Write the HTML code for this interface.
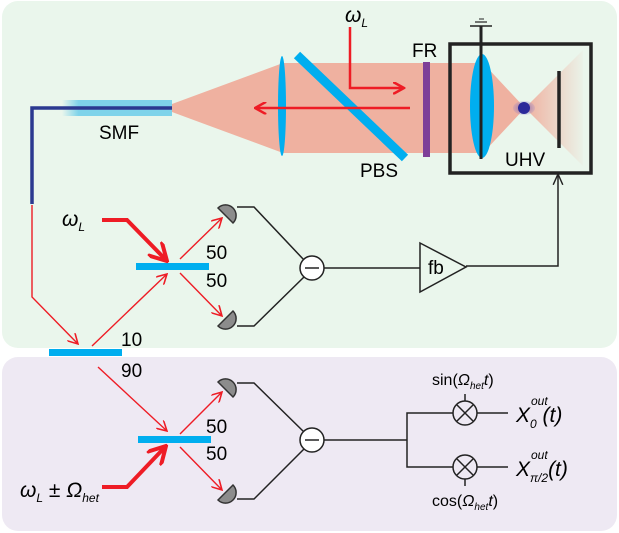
<!DOCTYPE html>
<html><head><style>body{margin:0;background:#fff}svg{display:block}text{font-family:"Liberation Sans",Arial,sans-serif}</style></head><body>
<svg width="619" height="533" viewBox="0 0 619 533" xmlns="http://www.w3.org/2000/svg">
<defs>
<marker id="a" viewBox="0 0 10 10" refX="9" refY="5" markerWidth="8" markerHeight="8" orient="auto"><path d="M0,0 L9,5 L0,10" fill="none" stroke="#ee1c25" stroke-width="1.4"/></marker>
<marker id="ab" viewBox="0 0 10 10" refX="9" refY="5" markerWidth="5" markerHeight="5" orient="auto"><path d="M0,0 L9,5 L0,10" fill="none" stroke="#ee1c25" stroke-width="2"/></marker>
<marker id="ak" viewBox="0 0 10 10" refX="9" refY="5" markerWidth="8" markerHeight="8" orient="auto"><path d="M0,1 L9,5 L0,9" fill="none" stroke="#222" stroke-width="1.2"/></marker>
<linearGradient id="g" x1="0" x2="1"><stop offset="0" stop-color="#efb1a0"/><stop offset="1" stop-color="#efb1a0" stop-opacity="0.05"/></linearGradient>
<linearGradient id="sf" x1="0" x2="1"><stop offset="0" stop-color="#7fd3ea" stop-opacity="0"/><stop offset="0.15" stop-color="#7fd3ea"/><stop offset="1" stop-color="#7fd3ea"/></linearGradient>
<radialGradient id="h"><stop offset="0" stop-color="#5a4aa8" stop-opacity=".8"/><stop offset="1" stop-color="#8a7ac8" stop-opacity=".2"/></radialGradient>
</defs>
<rect x="2" y="1" width="615" height="347" rx="16" fill="#eaf6ec"/>
<rect x="2" y="357" width="615" height="174" rx="16" fill="#eee9f3"/>
<!-- beam -->
<polygon points="172,104 172,112 283,153 283,63" fill="#efb1a0"/>
<rect x="283" y="63" width="167" height="90" fill="#efb1a0"/>
<polygon points="450,63 483,63 525,108 483,153 450,153" fill="#efb1a0"/>
<polygon points="525,108 583,50 583,166" fill="url(#g)"/>
<!-- fiber -->
<rect x="62" y="100" width="110" height="16" fill="url(#sf)"/>
<polyline points="32,204 32,108 172,108" fill="none" stroke="#2b3990" stroke-width="3.5"/>
<text x="99" y="139" font-size="19">SMF</text>
<!-- lens left -->
<ellipse cx="282" cy="106" rx="4" ry="50" fill="#00aeef"/>
<line x1="297" y1="55" x2="405" y2="158" stroke="#00aeef" stroke-width="9"/>
<polyline points="350,27 350,88 404,88" fill="none" stroke="#ee1c25" stroke-width="2.5" marker-end="url(#ab)"/>
<line x1="410" y1="108" x2="255" y2="108" stroke="#ee1c25" stroke-width="2.5" marker-end="url(#ab)"/>
<text x="345" y="22" font-size="21" font-style="italic">ω<tspan font-size="12" dy="5">L</tspan></text>
<text x="360" y="177" font-size="19">PBS</text>
<text x="412" y="57" font-size="19">FR</text>
<rect x="423" y="62" width="7" height="95" fill="#7e3f98"/>
<!-- UHV box -->
<rect x="450" y="44" width="141" height="129" fill="none" stroke="#222" stroke-width="3.5"/>
<ellipse cx="482" cy="106" rx="12" ry="52" fill="#00aeef"/>
<line x1="481" y1="26" x2="481" y2="159" stroke="#222" stroke-width="3"/>
<line x1="470" y1="26" x2="492" y2="26" stroke="#222" stroke-width="1.5"/>
<line x1="475" y1="22" x2="487" y2="22" stroke="#222" stroke-width="1.2"/>
<line x1="479" y1="19" x2="484" y2="19" stroke="#222" stroke-width="1"/>
<ellipse cx="524" cy="108" rx="11" ry="7" fill="url(#h)"/>
<circle cx="524" cy="108" r="6" fill="#2b2a9a"/>
<line x1="559" y1="71" x2="559" y2="148" stroke="#222" stroke-width="3.5"/>
<text x="505" y="166" font-size="19">UHV</text>
<polyline points="466,266 558,266 558,174" fill="none" stroke="#222" stroke-width="1.5" marker-end="url(#ak)"/>
<!-- top homodyne -->
<polyline points="32,205 32,297 78,344" fill="none" stroke="#ee1c25" stroke-width="1.4" marker-end="url(#a)"/>
<rect x="49" y="349" width="73" height="7" fill="#00aeef"/>
<text x="121" y="346" font-size="19">10</text>
<text x="121" y="377" font-size="19">90</text>
<line x1="92" y1="346" x2="167" y2="274" stroke="#ee1c25" stroke-width="1.4" marker-end="url(#a)"/>
<rect x="136" y="263" width="73" height="7" fill="#00aeef"/>
<text x="206" y="259" font-size="19">50</text>
<text x="206" y="287" font-size="19">50</text>
<polyline points="102,220 127,220 167,261" fill="none" stroke="#ee1c25" stroke-width="4" marker-end="url(#ab)"/>
<text x="62" y="226" font-size="21" font-style="italic">ω<tspan font-size="12" dy="5">L</tspan></text>
<line x1="180" y1="259" x2="222" y2="218" stroke="#ee1c25" stroke-width="1.4" marker-end="url(#a)"/>
<line x1="180" y1="273" x2="222" y2="316" stroke="#ee1c25" stroke-width="1.4" marker-end="url(#a)"/>
<g stroke="#333" stroke-width="1.5" fill="#8c8c8c">
<path d="M218,208 L233,223 A10.6,10.6 0 0 0 218,208 Z"/>
<path d="M218,326 L233,311 A10.6,10.6 0 0 1 218,326 Z"/>
<path d="M218,382 L233,397 A10.6,10.6 0 0 0 218,382 Z"/>
<path d="M218,500 L233,485 A10.6,10.6 0 0 1 218,500 Z"/>
</g>
<g fill="none" stroke="#222" stroke-width="1.5">
<polyline points="237,207 254,207 304,260"/>
<polyline points="237,326 254,326 304,277"/>
<circle cx="312" cy="268" r="12" fill="#fff"/>
<line x1="305" y1="268" x2="319" y2="268"/>
<line x1="324" y1="268" x2="420" y2="268"/>
<polygon points="420,243 466,267 420,292" fill="#eaf6ec"/>
<polyline points="237,383 254,383 304,432"/>
<polyline points="237,499 254,499 304,449"/>
<circle cx="312" cy="440" r="12" fill="#fff"/>
<line x1="305" y1="440" x2="319" y2="440"/>
<line x1="324" y1="440" x2="407" y2="440"/>
<polyline points="453,413 407,413 407,467 453,467"/>
<circle cx="465" cy="413" r="12"/><circle cx="465" cy="467" r="12"/>
<line x1="457" y1="405" x2="473" y2="421"/><line x1="473" y1="405" x2="457" y2="421"/>
<line x1="457" y1="459" x2="473" y2="475"/><line x1="473" y1="459" x2="457" y2="475"/>
<line x1="477" y1="413" x2="508" y2="413"/><line x1="477" y1="467" x2="508" y2="467"/>
<line x1="465" y1="394" x2="465" y2="401"/><line x1="465" y1="479" x2="465" y2="486"/>
</g>
<text x="428" y="274" font-size="19">fb</text>
<!-- bottom -->
<line x1="98" y1="367" x2="167" y2="431" stroke="#ee1c25" stroke-width="1.4" marker-end="url(#a)"/>
<rect x="138" y="436" width="73" height="7" fill="#00aeef"/>
<text x="206" y="433" font-size="19">50</text>
<text x="206" y="460" font-size="19">50</text>
<polyline points="102,487 127,487 166,446" fill="none" stroke="#ee1c25" stroke-width="4" marker-end="url(#ab)"/>
<text x="20" y="497" font-size="21" font-style="italic">ω<tspan font-size="12" dy="5">L</tspan><tspan dy="-5" font-style="normal"> ± </tspan>Ω<tspan font-size="12" dy="5">het</tspan></text>
<line x1="180" y1="434" x2="222" y2="392" stroke="#ee1c25" stroke-width="1.4" marker-end="url(#a)"/>
<line x1="180" y1="447" x2="222" y2="490" stroke="#ee1c25" stroke-width="1.4" marker-end="url(#a)"/>
<text x="432" y="385" font-size="16">sin(<tspan font-style="italic">Ω</tspan><tspan font-size="10" font-style="italic" dy="4">het</tspan><tspan font-style="italic" dy="-4">t</tspan>)</text>
<text x="432" y="506" font-size="16">cos(<tspan font-style="italic">Ω</tspan><tspan font-size="10" font-style="italic" dy="4">het</tspan><tspan font-style="italic" dy="-4">t</tspan>)</text>
<text x="516" y="422" font-size="21" font-style="italic">X<tspan font-size="12" dy="6">0</tspan><tspan dy="-6"> (t)</tspan></text>
<text x="531" y="405" font-size="12" font-style="italic">out</text>
<text x="516" y="476" font-size="21" font-style="italic">X<tspan font-size="12" dy="6">π/2</tspan><tspan dy="-6">(t)</tspan></text>
<text x="531" y="459" font-size="12" font-style="italic">out</text>
</svg>
</body></html>
